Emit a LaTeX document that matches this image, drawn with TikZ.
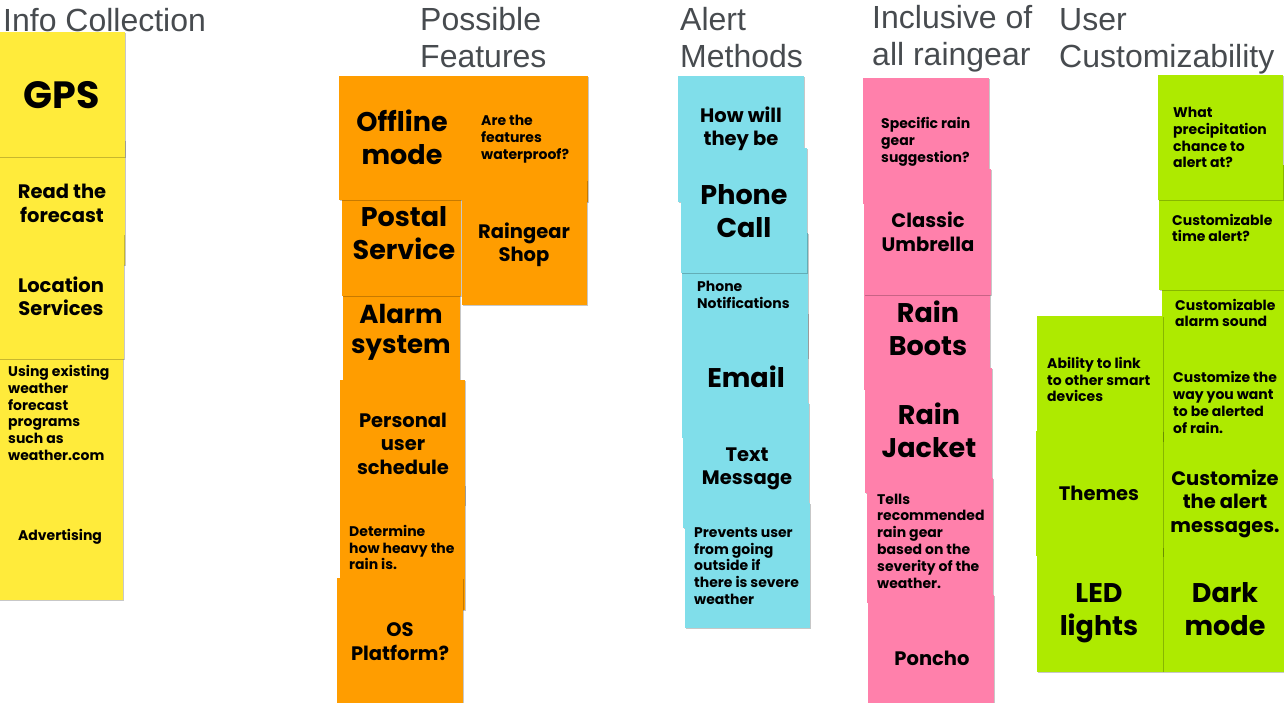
\documentclass[tikz,border=0pt]{standalone}
\usepackage{fontspec}
\setmainfont{Poppins}
\newfontfamily\headfont{Liberation Sans}
\usepackage{xcolor}
\definecolor{headgray}{HTML}{474B4F}
\definecolor{noteyellow}{HTML}{FFEB3B}
\definecolor{noteorange}{HTML}{FF9D00}
\definecolor{notecyan}{HTML}{80DEEA}
\definecolor{notepink}{HTML}{FF80AB}
\definecolor{notelime}{HTML}{AEEA00}
\usepackage{tikz}
\usetikzlibrary{shadows}

\tikzset{
  sticky/.style={fill=#1, drop shadow={shadow xshift=0.6pt, shadow yshift=-1.4pt, fill=black, opacity=0.22}},
  heading/.style={font={\headfont\fontsize{32}{37}\selectfont}, text=headgray, align=left, anchor=west, inner sep=0pt},
  bigtext/.style={font={\bfseries\fontsize{27}{33}\selectfont}, align=center, inner sep=0pt},
  midtext/.style={font={\bfseries\fontsize{19.5}{23.5}\selectfont}, align=center, inner sep=0pt},
  smalltext/.style={font={\bfseries\fontsize{14}{16.8}\selectfont}, align=left, anchor=west, inner sep=0pt},
}

\begin{document}
\begin{tikzpicture}[x=1pt, y=-1pt]
  \useasboundingbox (0,0) rectangle (1284,703);

  % headings
  \node[heading] (infohead) at (3,20) {Info Collection};
  \node[heading] (feathead) at (420,38) {Possible\\Features};
  \node[heading] (alerthead) at (680,38) {Alert\\Methods};
  \node[heading] (gearhead) at (872,39) {Inclusive of\\all raingear};
  \node[heading] (customhead) at (1059,41.5) {User\\Customizability};

  % info collection
  \fill[sticky=noteyellow] (-5,140) rectangle (125,265);
  \fill[sticky=noteyellow] (-5,32) rectangle (125,157);
  \fill[sticky=noteyellow] (-5,350) rectangle (123,475);
  \fill[sticky=noteyellow] (-5,234) rectangle (124,359);
  \fill[sticky=noteyellow] (-5,475) rectangle (123,600);
  \node[bigtext, font={\bfseries\fontsize{38}{44}\selectfont}] (gps) at (62,95) {GPS};
  \node[midtext] (forecast) at (62,203.5) {Read the\\forecast};
  \node[midtext] (location) at (61,296.5) {Location\\Services};
  \node[smalltext] (existing) at (8,413) {Using existing\\weather\\forecast\\programs\\such as\\weather.com};
  \node[smalltext, anchor=center] (advert) at (60,537) {Advertising};

  % possible features
  \fill[sticky=noteorange] (343,266) rectangle (460,391);
  \fill[sticky=noteorange] (342,171) rectangle (461,296);
  \fill[sticky=noteorange] (339,76) rectangle (465,200);
  \fill[sticky=noteorange] (465,76) rectangle (588,202);
  \fill[sticky=noteorange] (462,180) rectangle (587,305);
  \fill[sticky=noteorange] (340,380) rectangle (465,505);
  \fill[sticky=noteorange] (340,485) rectangle (465,610);
  \fill[sticky=noteorange] (337,578) rectangle (463,710);
  \node[bigtext] (offline) at (402,137.5) {Offline\\mode};
  \node[smalltext] (waterproof) at (481,139) {Are the\\features\\waterproof?};
  \node[bigtext] (postal) at (404,233) {Postal\\Service};
  \node[midtext] (shop) at (524,245) {Raingear\\Shop};
  \node[bigtext, font={\bfseries\fontsize{26}{30}\selectfont}] (alarm) at (401,332) {Alarm\\system};
  \node[midtext] (schedule) at (403,443.5) {Personal\\user\\schedule};
  \node[smalltext] (heavy) at (349,547.5) {Determine\\how heavy the\\rain is.};
  \node[midtext] (platform) at (400,641.5) {OS\\Platform?};

  % alert methods
  \fill[sticky=notecyan] (678,76) rectangle (804,202);
  \fill[sticky=notecyan] (682,233) rectangle (808,358);
  \fill[sticky=notecyan] (681,148) rectangle (807,273);
  \fill[sticky=notecyan] (682,313) rectangle (808,438);
  \fill[sticky=notecyan] (683,403) rectangle (809,528);
  \fill[sticky=notecyan] (685,503) rectangle (810,628);
  \node[midtext] (howwill) at (741,129) {How will\\they be};
  \node[bigtext] (call) at (744,211.5) {Phone\\Call};
  \node[smalltext] (notif) at (697,294.5) {Phone\\Notifications};
  \node[bigtext] (email) at (746,377) {Email};
  \node[midtext] (textmsg) at (747,469) {Text\\Message};
  \node[smalltext] (prevents) at (694,566) {Prevents user\\from going\\outside if\\there is severe\\weather};

  % raingear
  \fill[sticky=notepink] (863,78) rectangle (989,204);
  \fill[sticky=notepink] (864,265) rectangle (990,390);
  \fill[sticky=notepink] (864,169) rectangle (991,295);
  \fill[sticky=notepink] (865,368) rectangle (992,493);
  \fill[sticky=notepink] (867,478) rectangle (993,603);
  \fill[sticky=notepink] (868,595) rectangle (994,720);
  \node[smalltext] (specific) at (881,142) {Specific rain\\gear\\suggestion?};
  \node[midtext] (umbrella) at (928,232) {Classic\\Umbrella};
  \node[bigtext] (boots) at (928,328) {Rain\\Boots};
  \node[bigtext] (jacket) at (929,430) {Rain\\Jacket};
  \node[smalltext] (tells) at (877,541) {Tells\\recommended\\rain gear\\based on the\\severity of the\\weather.};
  \node[midtext] (poncho) at (932,658) {Poncho};

  % user customizability
  \fill[sticky=notelime] (1162,250) rectangle (1290,375);
  \fill[sticky=notelime] (1159,165) rectangle (1290,290);
  \fill[sticky=notelime] (1158,75) rectangle (1283,200);
  \fill[sticky=notelime] (1163,339) rectangle (1290,464);
  \fill[sticky=notelime] (1163,439) rectangle (1290,564);
  \fill[sticky=notelime] (1163,547) rectangle (1290,672);
  \fill[sticky=notelime] (1037,316) rectangle (1163,441);
  \fill[sticky=notelime] (1036,431) rectangle (1163,556);
  \fill[sticky=notelime] (1037,547) rectangle (1163,672);
  \node[smalltext] (precip) at (1173,137.5) {What\\precipitation\\chance to\\alert at?};
  \node[smalltext] (timealert) at (1172,228) {Customizable\\time alert?};
  \node[smalltext] (sound) at (1175,313) {Customizable\\alarm sound};
  \node[smalltext] (waywant) at (1173,402.5) {Customize the\\way you want\\to be alerted\\of rain.};
  \node[midtext] (messages) at (1225,503.5) {Customize\\the alert\\messages.};
  \node[bigtext] (dark) at (1225,609.5) {Dark\\mode};
  \node[smalltext] (smartlink) at (1047,379.5) {Ability to link\\to other smart\\devices};
  \node[midtext] (themes) at (1099,493) {Themes};
  \node[bigtext] (led) at (1099,613) {LED\\lights};
\end{tikzpicture}
\end{document}
